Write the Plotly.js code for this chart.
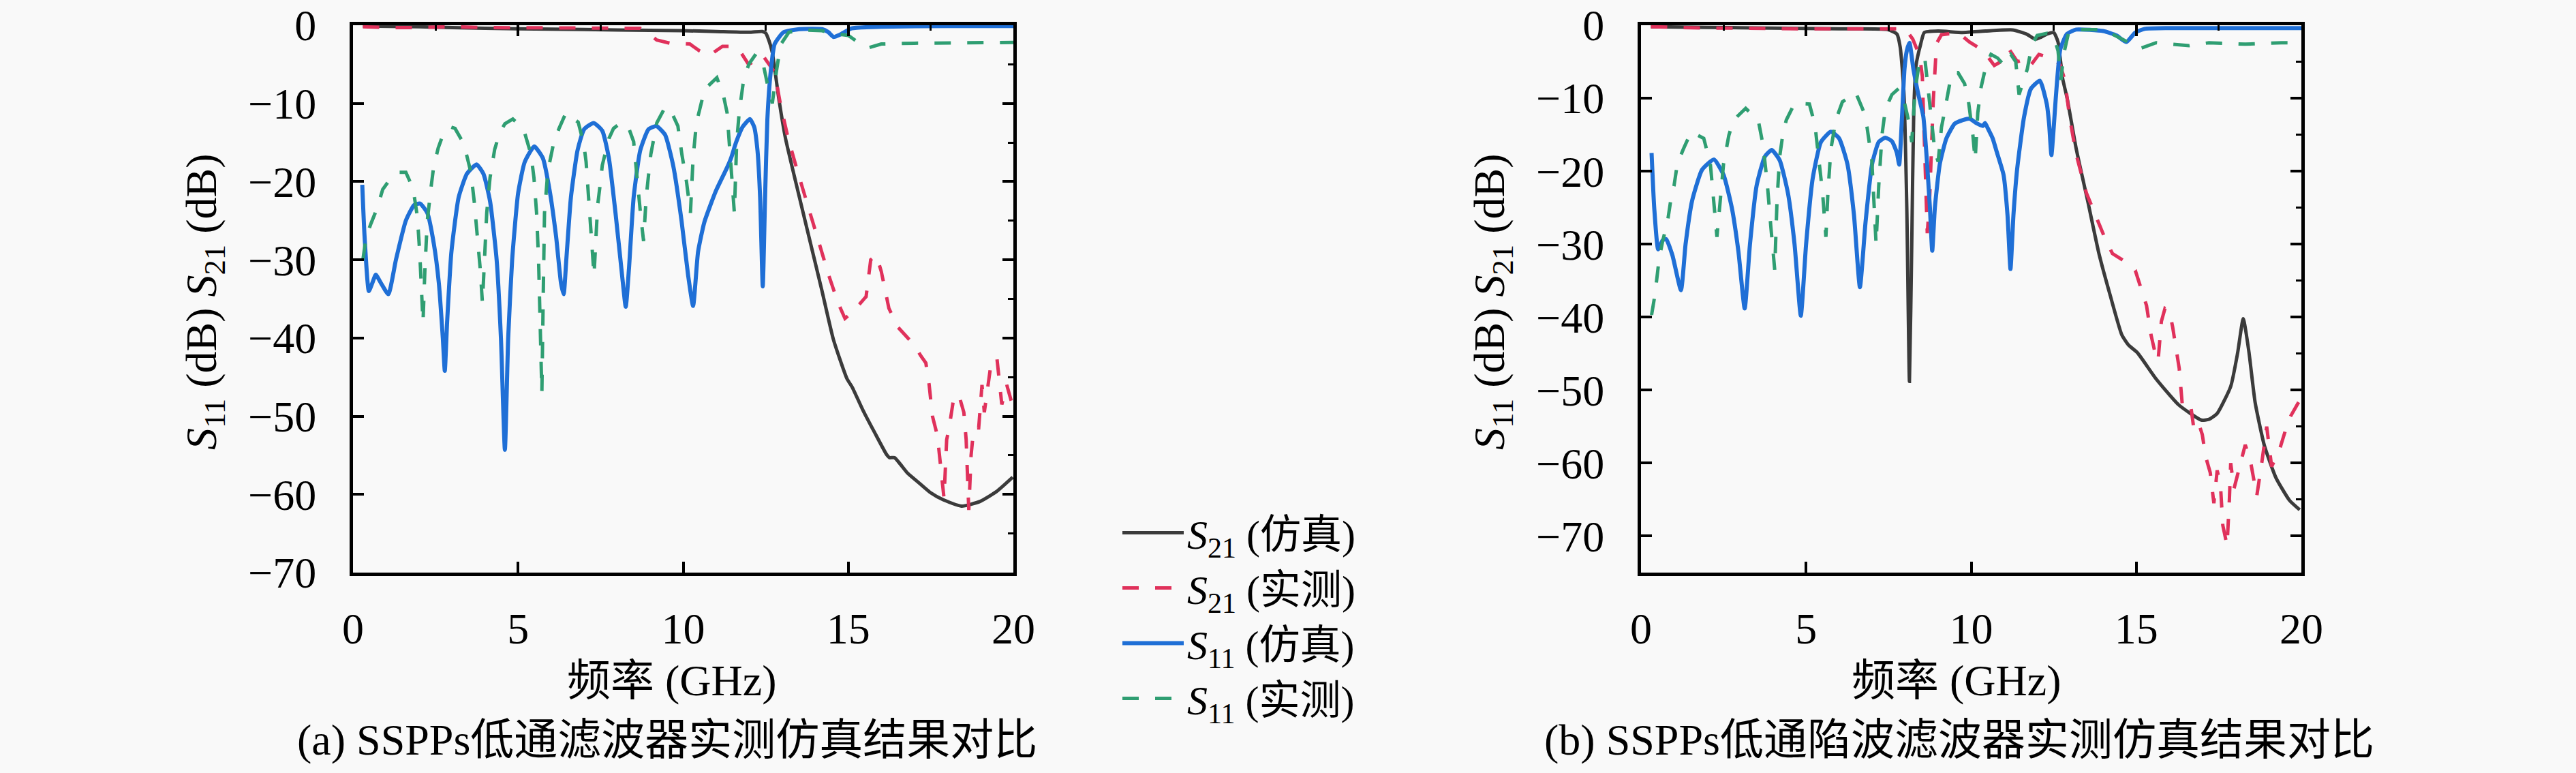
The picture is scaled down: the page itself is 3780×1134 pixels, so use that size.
<!DOCTYPE html>
<html>
<head>
<meta charset="utf-8">
<script src="https://cdn.plot.ly/plotly-3.0.1.min.js"></script>
<style>html,body{margin:0;padding:0;background:#f9f9f9}</style>
</head>
<body>
<div id="chart" style="width:3780px;height:1134px"></div>
<script>
/* ─── (a) SSPPs low-pass filter ─── */
const A_S21_SIM_F = [0.3,2,4,6,8,10,11,12,12.4,12.5,12.6,12.7,12.9,13.1,13.4,13.8,14.2,14.55,14.96,15.12,15.44,15.8,16.16,16.25,16.4,16.8,17.19,17.5,17.88,18.43,18.99,19.5,19.98];
const A_S21_SIM_DB = [-0.1,-0.2,-0.4,-0.5,-0.6,-0.7,-0.8,-0.9,-0.8,-1.0,-2.0,-3.5,-9.5,-14.5,-19.9,-26.9,-33.9,-40.2,-45.2,-46.3,-49.2,-52.1,-54.9,-55.3,-55.3,-57.3,-58.7,-59.8,-60.7,-61.5,-60.9,-59.6,-57.8];

const A_S21_MEAS_F = [0.3,1,2,3,4,5,6,7,8,8.7,9.0,9.2,9.6,10.2,10.5,10.78,11.19,11.5,11.67,11.98,12.2,12.4,12.6,12.77,12.94,13.18,13.45,13.8,14.07,14.41,14.69,14.9,15.17,15.54,15.68,15.85,16.0,16.23,16.5,16.8,17.0,17.2,17.35,17.45,17.55,17.7,17.8,17.9,17.98,18.05,18.2,18.35,18.5,18.57,18.65,18.72,18.8,18.95,19.05,19.12,19.3,19.5,19.65,19.8,20];
const A_S21_MEAS_DB = [-0.2,-0.3,-0.3,-0.2,-0.3,-0.3,-0.4,-0.3,-0.3,-0.4,-1.2,-1.9,-2.3,-2.4,-3.3,-3.9,-2.7,-2.7,-3.0,-5.0,-4.5,-3.8,-5.0,-6.0,-10,-14.5,-18.5,-23.5,-27.5,-32,-35.5,-37.5,-36.5,-34.7,-30,-29.4,-31.5,-36.2,-38.6,-40,-40.9,-42.3,-43.2,-46,-50,-52.5,-56.5,-60.5,-53,-51.6,-47.5,-47.3,-49.5,-53,-62,-55,-51.5,-51.5,-46,-49.5,-44,-42.5,-48.5,-46,-49];

const A_S11_SIM_F = [0.28,0.35,0.48,0.6,0.69,0.85,1.07,1.3,1.6,1.85,2.03,2.25,2.45,2.6,2.72,2.78,2.85,2.98,3.2,3.45,3.74,3.95,4.15,4.35,4.48,4.6,4.7,4.82,5.0,5.2,5.49,5.75,5.95,6.15,6.3,6.38,6.46,6.6,6.8,7.0,7.29,7.55,7.75,7.95,8.15,8.26,8.36,8.5,8.7,8.95,9.19,9.45,9.7,9.95,10.15,10.3,10.45,10.64,10.99,11.33,11.45,11.6,11.8,12.02,12.15,12.25,12.33,12.41,12.48,12.55,12.65,12.77,13.04,13.52,14.21,14.4,14.55,14.75,15.1,16,18,20];
const A_S11_SIM_DB = [-20.4,-27,-34,-32.8,-31.9,-33,-34.4,-30,-25,-23,-22.8,-24,-28,-33,-40,-44.2,-38,-29,-22,-19,-17.8,-19,-22.5,-30,-40,-54.3,-40,-30,-21.5,-17.5,-15.5,-17,-21,-27,-33,-34.4,-30,-22,-16,-13.3,-12.5,-13.5,-17,-24,-32,-36,-31,-22,-16,-13.3,-12.9,-14,-18,-25,-32,-35.9,-29,-25.2,-21.2,-18.2,-17,-15,-13,-12.0,-13,-16,-22,-33.4,-22,-12,-6,-2.4,-0.9,-0.5,-0.5,-0.9,-1.5,-1.2,-0.4,-0.2,-0.1,-0.1];

const A_S11_MEAS_F = [0.3,0.4,0.55,0.73,0.9,1.17,1.4,1.6,1.82,1.95,2.02,2.08,2.12,2.18,2.25,2.37,2.44,2.58,2.75,2.95,3.09,3.36,3.57,3.67,3.75,3.85,3.92,3.98,4.05,4.15,4.29,4.43,4.6,4.84,5.0,5.18,5.39,5.48,5.56,5.62,5.66,5.69,5.72,5.76,5.8,5.9,6.07,6.24,6.45,6.82,6.99,7.06,7.17,7.24,7.3,7.36,7.41,7.5,7.55,7.75,7.89,8.1,8.33,8.5,8.64,8.71,8.8,8.88,8.95,9.02,9.2,9.45,9.6,9.84,9.96,10.1,10.22,10.3,10.4,10.5,10.65,11.02,11.23,11.33,11.4,11.47,11.55,11.62,11.7,11.84,12.0,12.2,12.4,12.55,12.7,12.82,12.95,13.2,13.6,14.2,14.6,15.0,15.3,15.6,16.0,17,18,19,20];
const A_S11_MEAS_DB = [-30,-27,-25.3,-23.4,-21,-19.4,-18.8,-18.8,-20.9,-24.5,-29,-34,-38,-31,-25,-20.5,-18.2,-15.7,-13.7,-13,-13.2,-15.2,-18.8,-22.5,-26,-31,-35.5,-30,-24,-19.5,-15.9,-13.9,-12.6,-12,-12.6,-13.5,-16.5,-19.5,-24,-30,-36,-42,-47,-35,-24,-18.7,-15.2,-13.2,-11.2,-12.4,-15.2,-17.5,-24,-28,-32,-27,-23,-19.9,-17.9,-14.5,-13.2,-12.5,-12.9,-14.9,-21.9,-24.2,-27.6,-22,-19.2,-16.5,-12.5,-10.5,-10.7,-12.9,-16.5,-20,-24,-17,-12.5,-10.9,-8.2,-6.7,-9.2,-11.2,-15,-19,-24,-15,-11,-6.7,-4.9,-3.7,-4.5,-7.5,-10,-6,-2.5,-0.9,-0.6,-0.7,-1.1,-1.3,-2.2,-2.9,-2.4,-2.3,-2.3,-2.2,-2.2];

/* ─── (b) SSPPs low-pass notch filter ─── */
const B_S21_SIM_F = [0.3,2,4,6,7.47,7.75,7.85,7.96,8.05,8.13,8.2,8.26,8.33,8.47,8.58,9,9.74,10.43,11.26,11.67,11.94,12.08,12.3,12.5,12.63,12.77,12.91,13.18,13.53,13.87,14.21,14.56,14.76,15.04,15.59,16.28,16.97,17.2,17.45,17.86,18.07,18.24,18.41,18.6,18.88,19.23,19.64,19.95];
const B_S21_SIM_DB = [-0.2,-0.3,-0.4,-0.5,-0.6,-1.2,-3,-9,-25,-48.8,-30,-12,-5.5,-2.6,-1.0,-0.8,-1.0,-0.8,-0.65,-1.2,-1.9,-1.7,-1.2,-1.0,-2.3,-7.3,-10.1,-16.9,-24.1,-31.3,-37,-42.4,-43.8,-44.9,-48.4,-52,-54.1,-54.0,-53.2,-49.5,-44.9,-40.2,-44.7,-51.7,-57.6,-62,-65.1,-66.4];

const B_S21_MEAS_F = [0.3,1,2,3,4,5,6,7,7.8,8.0,8.23,8.44,8.52,8.6,8.67,8.74,8.8,8.85,8.95,9.1,9.6,9.95,10.2,10.4,10.7,10.9,11.15,11.4,11.67,11.8,12.05,12.5,12.7,12.84,12.98,13.18,13.49,13.8,14.08,14.28,14.7,14.97,15.14,15.31,15.45,15.6,15.66,15.76,15.87,16.0,16.1,16.2,16.3,16.39,16.63,16.75,16.9,17.0,17.1,17.24,17.35,17.45,17.55,17.62,17.75,17.82,17.86,17.96,18.1,18.3,18.45,18.65,18.8,18.95,19.1,19.35,19.62,19.8,20];
const B_S21_MEAS_DB = [-0.2,-0.3,-0.4,-0.4,-0.5,-0.5,-0.5,-0.5,-0.4,-0.5,-1.9,-4.2,-7,-20,-28.5,-24,-15,-10.5,-2.5,-1.3,-1,-2.3,-3,-3.7,-5.5,-5,-3.3,-5,-4.6,-5.5,-4,-4.6,-5.5,-7.6,-12.6,-17.7,-23,-26.5,-29.5,-31.3,-32.5,-33.6,-35.9,-38.4,-42.5,-45.5,-46,-40.6,-38.8,-39.1,-41.3,-44.5,-47,-51.8,-51.5,-55.5,-54.7,-56.1,-59.1,-61.3,-65.5,-61,-63,-68.5,-71.3,-65,-60,-63.5,-61,-57.5,-59.5,-64.5,-60,-55,-60.5,-58,-54,-52.5,-51];

const B_S11_SIM_F = [0.32,0.4,0.52,0.65,0.76,0.95,1.21,1.35,1.55,1.85,2.21,2.5,2.75,2.95,3.14,3.3,3.5,3.75,3.96,4.2,4.45,4.65,4.84,5.0,5.2,5.45,5.75,6.0,6.25,6.45,6.63,6.8,7.0,7.2,7.4,7.6,7.75,7.82,7.9,7.98,8.05,8.13,8.25,8.4,8.55,8.65,8.75,8.82,8.9,9.05,9.25,9.5,9.75,9.95,10.15,10.35,10.42,10.5,10.65,10.77,10.98,11.1,11.19,11.28,11.39,11.6,11.81,12.08,12.29,12.36,12.43,12.5,12.56,12.7,12.9,13.18,14.0,14.4,14.7,14.97,15.25,16,20];
const B_S11_SIM_DB = [-17.5,-25,-30.7,-29.5,-29.3,-31.5,-36.3,-30,-24,-19.8,-18.4,-20.5,-25,-31,-38.8,-30,-22,-18,-17.1,-18.5,-23,-30,-39.8,-30,-21,-16,-14.6,-15.5,-19,-26,-35.9,-27,-19,-16,-15.4,-15.9,-17.5,-19.1,-13,-6,-3.5,-2.4,-6,-9.5,-12.5,-18,-25,-30.9,-25,-19,-15.5,-13.5,-13,-12.8,-13.4,-13.8,-13.4,-14.1,-15.5,-17.3,-20.5,-26,-33.4,-26,-19.8,-12.6,-8.7,-7.6,-10.8,-13.5,-17.8,-14,-10.1,-3.3,-1.2,-0.6,-0.8,-1.4,-2.3,-1.0,-0.5,-0.4,-0.4];

const B_S11_MEAS_F = [0.32,0.42,0.55,0.66,0.8,0.9,1.0,1.1,1.28,1.52,1.9,2.1,2.2,2.3,2.4,2.5,2.66,2.8,3.17,3.55,3.7,3.83,3.93,4.05,4.12,4.2,4.3,4.4,4.65,5.1,5.27,5.4,5.5,5.6,5.66,5.75,5.9,6.1,6.5,6.75,6.85,6.99,7.05,7.12,7.2,7.3,7.4,7.6,7.8,7.95,8.1,8.2,8.3,8.45,8.6,8.75,8.9,9.0,9.1,9.2,9.35,9.45,9.6,9.8,9.92,10.05,10.12,10.2,10.3,10.45,10.6,10.8,11.0,11.2,11.35,11.45,11.55,11.7,11.85,12.0,12.3,12.5,12.63,12.72,12.8,12.97,14.0,14.3,14.7,14.9,15.11,15.6,16.1,16.6,17.2,18.3,19.4,20];
const B_S11_MEAS_DB = [-39.7,-37,-32,-29.5,-27,-24,-22,-19,-17,-14.6,-15.5,-19,-24,-29,-24,-19,-15.1,-13,-11.4,-13,-16.5,-22,-27.5,-33.5,-24,-18,-14.8,-13,-10.7,-10.8,-13.7,-19,-23,-29,-23,-17,-13,-10.5,-9.2,-11.9,-14.1,-18.5,-23,-30,-22,-15,-11.5,-9.5,-8.7,-10,-13,-16,-9,-4.4,-4.7,-11,-17.3,-18.7,-14,-11.7,-8,-6.5,-6.5,-8,-10.5,-15,-18.5,-12,-8.5,-5.5,-4,-4.5,-5.5,-4,-5,-9.5,-8,-6,-2.5,-1.4,-1.1,-1.5,-3.5,-7.5,-4,-0.6,-0.6,-1.3,-2.2,-2.8,-3.2,-2.4,-2.6,-2.8,-2.4,-2.6,-2.4,-2.4];

const SERIES_NAMES = ['<i>S</i><sub>21</sub> (仿真)', '<i>S</i><sub>21</sub> (实测)',
                      '<i>S</i><sub>11</sub> (仿真)', '<i>S</i><sub>11</sub> (实测)'];
const X_TITLE = '频率 (GHz)';
const Y_TITLE = '<i>S</i><sub>11</sub> (dB) <i>S</i><sub>21</sub> (dB)';
const CAPTION_A = '(a) SSPPs低通滤波器实测仿真结果对比';
const CAPTION_B = '(b) SSPPs低通陷波滤波器实测仿真结果对比';

const FONT = 'Liberation Serif, Noto Sans CJK SC, serif';
const W = 3780, H = 1134;
const COLORS = ['#3b3b3b', '#e0315b', '#1f6fd6', '#2f9e72'];
const WIDTHS = [5, 5, 6, 5];
const DASH = '24px,24px';

function makeTraces(sets, xa, ya, showlegend) {
    return sets.map((s, i) => ({
        x: s[0], y: s[1],
        xaxis: xa, yaxis: ya,
        type: 'scatter', mode: 'lines',
        name: SERIES_NAMES[i],
        showlegend: showlegend,
        line: {
            color: COLORS[i],
            width: WIDTHS[i],
            dash: (i % 2 === 1) ? DASH : 'solid',
            shape: (i % 2 === 0) ? 'spline' : 'linear',
            smoothing: 0.5,
        },
        hoverinfo: 'skip',
    }));
}

const traces = [
    ...makeTraces([[A_S21_SIM_F, A_S21_SIM_DB], [A_S21_MEAS_F, A_S21_MEAS_DB],
                   [A_S11_SIM_F, A_S11_SIM_DB], [A_S11_MEAS_F, A_S11_MEAS_DB]], 'x', 'y', true),
    ...makeTraces([[B_S21_SIM_F, B_S21_SIM_DB], [B_S21_MEAS_F, B_S21_MEAS_DB],
                   [B_S11_SIM_F, B_S11_SIM_DB], [B_S11_MEAS_F, B_S11_MEAS_DB]], 'x3', 'y3', false),
    // empty traces only to register the top/right tick overlays
    { x: [], y: [], xaxis: 'x2', yaxis: 'y2', type: 'scatter', showlegend: false },
    { x: [], y: [], xaxis: 'x4', yaxis: 'y4', type: 'scatter', showlegend: false },
];

const tickFont = { family: FONT, size: 64, color: '#000' };

function mainX(domain, anchor) {
    return {
        domain: domain, anchor: anchor, range: [0, 20], tick0: 0, dtick: 5,
        ticks: 'inside', ticklen: 16, tickwidth: 4, tickcolor: '#000',
        showline: true, linewidth: 5, linecolor: '#000', mirror: true,
        showgrid: false, zeroline: false, tickfont: tickFont,
        ticklabelstandoff: 22, fixedrange: true,
    };
}
function mainY(domain, anchor, yMin) {
    return {
        domain: domain, anchor: anchor, range: [yMin, 0], tick0: 0, dtick: 10,
        ticks: 'inside', ticklen: 16, tickwidth: 4, tickcolor: '#000',
        showline: true, linewidth: 5, linecolor: '#000', mirror: true,
        showgrid: false, zeroline: false, tickfont: tickFont,
        ticklabelstandoff: 36, fixedrange: true,
    };
}
function topX(over, anchor) {
    return {
        overlaying: over, anchor: anchor, side: 'top', range: [0, 20], tick0: 0, dtick: 5,
        ticks: 'inside', ticklen: 16, tickwidth: 4, tickcolor: '#000',
        minor: { dtick: 2.5, ticks: 'inside', ticklen: 8, tickwidth: 3, tickcolor: '#000', showgrid: false },
        showticklabels: false, showline: false, showgrid: false, zeroline: false, fixedrange: true,
    };
}
function rightY(over, anchor, yMin) {
    return {
        overlaying: over, anchor: anchor, side: 'right', range: [yMin, 0], tick0: 0, dtick: 10,
        ticks: 'inside', ticklen: 16, tickwidth: 4, tickcolor: '#000',
        minor: { dtick: 5, ticks: 'inside', ticklen: 8, tickwidth: 3, tickcolor: '#000', showgrid: false },
        showticklabels: false, showline: false, showgrid: false, zeroline: false, fixedrange: true,
    };
}

const domA = [518 / W, 1487 / W];
const domB = [2408 / W, 3377 / W];
const domY = [1 - 840 / H, 1 - 37 / H];

function label(text, xPx, yPx, angle) {
    return {
        text: text, xref: 'paper', yref: 'paper', x: xPx / W, y: 1 - yPx / H,
        xanchor: 'center', yanchor: 'middle', showarrow: false, textangle: angle || 0,
        font: { family: FONT, size: 64, color: '#000' },
    };
}

const layout = {
    width: W, height: H,
    margin: { l: 0, r: 0, t: 0, b: 0 },
    paper_bgcolor: '#f9f9f9', plot_bgcolor: '#f9f9f9',
    font: { family: FONT, color: '#000' },
    xaxis: mainX(domA, 'y'), yaxis: mainY(domY, 'x', -70),
    xaxis2: topX('x', 'y'), yaxis2: rightY('y', 'x', -70),
    xaxis3: mainX(domB, 'y3'), yaxis3: mainY(domY, 'x3', -75),
    xaxis4: topX('x3', 'y3'), yaxis4: rightY('y3', 'x3', -75),
    legend: {
        x: 1642 / W, y: 1 - 736 / H, xanchor: 'left', yanchor: 'top',
        bgcolor: 'rgba(0,0,0,0)', borderwidth: 0, itemwidth: 90,
        font: { family: FONT, size: 60, color: '#000' },
        tracegroupgap: 0,
    },
    annotations: [
        label(X_TITLE, 985, 998), label(X_TITLE, 2870, 998),
        label(Y_TITLE, 300, 443, -90), label(Y_TITLE, 2190, 443, -90),
        label(CAPTION_A, 979, 1085), label(CAPTION_B, 2875, 1085),
    ],
    showlegend: true,
};

Plotly.newPlot('chart', traces, layout, { staticPlot: true, displayModeBar: false });
</script>
</body>
</html>
